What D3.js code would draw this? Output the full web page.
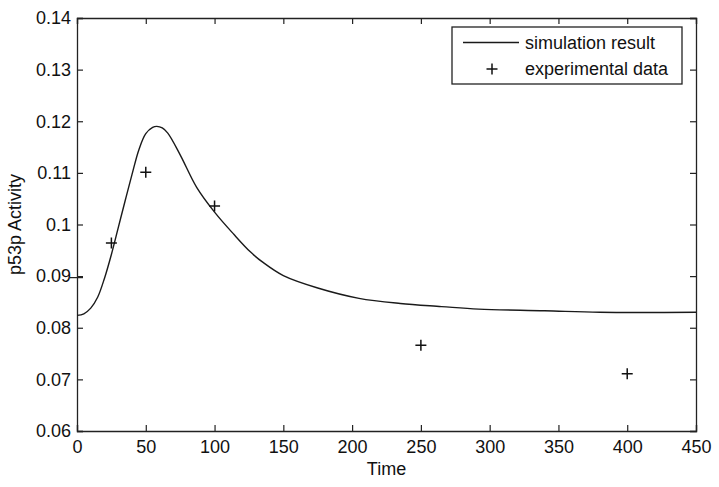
<!doctype html>
<html lang="en">
<head>
  <meta charset="utf-8">
  <title>p53p Activity</title>
  <style>
    body { margin: 0; background: #fff; }
    text { font-family: "Liberation Sans", Arial, sans-serif; fill: #111; }
  </style>
</head>
<body>
<svg id="mysvg"></svg>
<script src="https://d3js.org/d3.v7.min.js"></script>
<script>
// simulation curve
var simTime = [0, 5, 10, 15, 20, 25, 30, 35, 40, 45, 50, 55, 58, 62, 66, 75, 87, 100, 114, 126, 135, 150, 175, 205, 235, 265, 292, 340, 380, 450];
var simValue = [0.0824, 0.0827, 0.0838, 0.0859, 0.0896, 0.0942, 0.0994, 0.1046, 0.1097, 0.1145, 0.1176, 0.1188, 0.1190, 0.1187, 0.1177, 0.1135, 0.1072, 0.1024, 0.0981, 0.0947, 0.0927, 0.0901, 0.0877, 0.0857, 0.0847, 0.0841, 0.0836, 0.0833, 0.0830, 0.0830];

// experimental data
var expTime = [25, 50, 100, 250, 400];
var expValue = [0.0964, 0.1101, 0.1036, 0.0766, 0.0711];

var xTicks = [0, 50, 100, 150, 200, 250, 300, 350, 400, 450];
var yTicks = [0.06, 0.07, 0.08, 0.09, 0.1, 0.11, 0.12, 0.13, 0.14];
var legendLabels = ["simulation result", "experimental data"];

var width = 719;
var height = 487;
var margin = {left: 77, right: 23, top: 18, bottom: 56};
var fontSize = "18px";

var svg = d3.select("#mysvg")
  .attr("width", width)
  .attr("height", height);

var x = d3.scaleLinear()
  .domain([0, 450])
  .range([margin.left, width - margin.right]);

var y = d3.scaleLinear()
  .domain([0.06, 0.14])
  .range([height - margin.bottom, margin.top]);

var fmt = function(d) { return String(+d.toFixed(2)); };

// axes, ticks pointing inward like matlab
svg.append("g")
  .attr("transform", "translate(0," + y(0.06) + ")")
  .call(d3.axisBottom(x).tickValues(xTicks).tickSize(-6).tickPadding(9).tickFormat(d3.format("d")));
svg.append("g")
  .attr("transform", "translate(0," + y(0.14) + ")")
  .call(d3.axisTop(x).tickValues(xTicks).tickSize(-6).tickFormat(""));
svg.append("g")
  .attr("transform", "translate(" + x(0) + ",0)")
  .call(d3.axisLeft(y).tickValues(yTicks).tickSize(-6).tickPadding(6).tickFormat(fmt));
svg.append("g")
  .attr("transform", "translate(" + x(450) + ",0)")
  .call(d3.axisRight(y).tickValues(yTicks).tickSize(-6).tickFormat(""));

svg.selectAll(".domain").attr("stroke", "#222").attr("stroke-width", 1.3);
svg.selectAll(".tick line").attr("stroke", "#222").attr("stroke-width", 1.2);
svg.selectAll(".tick text")
  .style("font-family", "'Liberation Sans', Arial, sans-serif")
  .style("font-size", fontSize)
  .attr("fill", "#111");

// small stray tick near 0.09 seen in the original figure
svg.append("line")
  .attr("x1", x(0) - 7).attr("x2", x(0) + 6)
  .attr("y1", y(0.09) + 1.5).attr("y2", y(0.09) + 1.5)
  .attr("stroke", "#222").attr("stroke-width", 1.2);

// labels
svg.append("text")
  .attr("x", (x(0) + x(450)) / 2)
  .attr("y", 475)
  .attr("text-anchor", "middle")
  .style("font-size", fontSize)
  .text("Time");

svg.append("text")
  .attr("transform", "translate(21," + (y(0.06) + y(0.14)) / 2 + ") rotate(-90)")
  .attr("text-anchor", "middle")
  .style("font-size", fontSize)
  .text("p53p Activity");

// simulation curve
var sim = simTime.map(function(t, i) { return {t: t, v: simValue[i]}; });
var line = d3.line()
  .x(function(d) { return x(d.t); })
  .y(function(d) { return y(d.v); })
  .curve(d3.curveCatmullRom.alpha(0.5));

svg.append("path").datum(sim)
  .attr("d", line)
  .style("fill", "none")
  .style("stroke", "#1a1a1a")
  .style("stroke-width", 1.4);

// plus markers
var plusPath = function(cx, cy) {
  var s = 5.5;
  return "M" + (cx - s) + "," + cy + "H" + (cx + s) + "M" + cx + "," + (cy - s) + "V" + (cy + s);
};
var exp = expTime.map(function(t, i) { return {t: t, v: expValue[i]}; });
svg.selectAll("path.pt").data(exp)
  .enter()
  .append("path")
  .attr("class", "pt")
  .attr("d", function(d) { return plusPath(x(d.t), y(d.v)); })
  .style("stroke", "#111")
  .style("stroke-width", 1.5)
  .style("fill", "none");

// legend
var leg = svg.append("g");
leg.append("rect")
  .attr("x", 452).attr("y", 27)
  .attr("width", 230).attr("height", 57)
  .attr("fill", "#fff")
  .attr("stroke", "#222")
  .attr("stroke-width", 1.3);
leg.append("line")
  .attr("x1", 463).attr("x2", 519)
  .attr("y1", 42.5).attr("y2", 42.5)
  .attr("stroke", "#1a1a1a").attr("stroke-width", 1.4);
leg.append("path")
  .attr("d", plusPath(492, 69))
  .style("stroke", "#111").style("stroke-width", 1.5);
leg.selectAll("text.lg").data(legendLabels)
  .enter()
  .append("text")
  .attr("class", "lg")
  .attr("x", 525)
  .attr("y", function(d, i) { return 49 + i * 26; })
  .style("font-size", fontSize)
  .text(function(d) { return d; });
</script>
</body>
</html>
